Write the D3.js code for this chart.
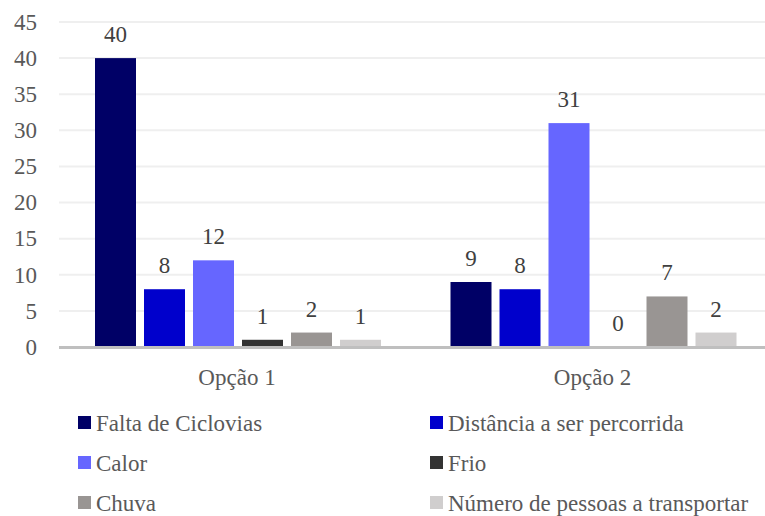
<!DOCTYPE html>
<html>
<head>
<meta charset="utf-8">
<script src="https://cdn.jsdelivr.net/npm/d3@7"></script>
<style>
  html, body { margin: 0; padding: 0; background: #fff; }
  svg text { font-family: "Liberation Serif", "Times New Roman", serif !important; }
</style>
</head>
<body>
<svg id="chart" width="765" height="516"></svg>
<script>
const categories = ["Opção 1", "Opção 2"];
const seriesNames = ["Falta de Ciclovias", "Distância a ser percorrida", "Calor", "Frio", "Chuva", "Número de pessoas a transportar"];
const seriesColors = ["#000066", "#0000CC", "#6666FF", "#333333", "#999593", "#D0CECE"];
const falta = [40, 9];
const distancia = [8, 8];
const calor = [12, 31];
const frio = [1, 0];
const chuva = [2, 7];
const numero = [1, 2];
const yTicks = [0, 5, 10, 15, 20, 25, 30, 35, 40, 45];

const seriesValues = [falta, distancia, calor, frio, chuva, numero];
const FONT_STYLE = "font-family: 'Liberation Serif', serif";
const FS = 23;

const svg = d3.select("#chart");
const plotLeft = 59, plotRight = 765;

const y = d3.scaleLinear().domain([0, 45]).range([347, 22]);
const x0 = d3.scaleBand().domain(categories).range([60.25, 771.25]).padding(0);
const groupW = 286;
const x1 = d3.scaleBand().domain(seriesNames).range([0, groupW]).paddingInner(8 / 49).paddingOuter(0);

// gridlines
svg.append("g").selectAll("line").data(yTicks.filter(d => d > 0)).join("line")
  .attr("x1", plotLeft).attr("x2", plotRight)
  .attr("y1", d => y(d)).attr("y2", d => y(d))
  .attr("stroke", "#EFEFEF").attr("stroke-width", 2);

// y tick labels
svg.append("g").selectAll("text").data(yTicks).join("text")
  .attr("x", 37).attr("y", d => y(d)).attr("dy", "0.34em")
  .attr("text-anchor", "end").attr("font-size", FS).attr("fill", "#595959")
  .attr("style", FONT_STYLE)
  .text(d => d);

// bars
const groups = svg.append("g").selectAll("g").data(categories).join("g")
  .attr("transform", c => `translate(${x0(c) + x0.bandwidth() / 2 - groupW / 2},0)`);

groups.each(function(c, ci) {
  const g = d3.select(this);
  const data = seriesNames.map((s, si) => ({ s, si, v: seriesValues[si][ci] }));
  g.selectAll("rect").data(data).join("rect")
    .attr("x", d => x1(d.s)).attr("width", x1.bandwidth())
    .attr("y", d => y(d.v)).attr("height", d => y(0) - y(d.v))
    .attr("fill", d => seriesColors[d.si]);
  g.selectAll("text").data(data).join("text")
    .attr("x", d => x1(d.s) + x1.bandwidth() / 2)
    .attr("y", d => y(d.v) - 16)
    .attr("text-anchor", "middle").attr("font-size", FS).attr("fill", "#404040")
    .attr("style", FONT_STYLE)
    .text(d => d.v);
});

// axis line
svg.append("line").attr("x1", plotLeft).attr("x2", plotRight)
  .attr("y1", y(0) + 0.5).attr("y2", y(0) + 0.5)
  .attr("stroke", "#BFBFBF").attr("stroke-width", 3);

// category labels
svg.append("g").selectAll("text").data(categories).join("text")
  .attr("x", c => x0(c) + x0.bandwidth() / 2 - 1).attr("y", 385)
  .attr("text-anchor", "middle").attr("font-size", FS).attr("fill", "#595959")
  .attr("style", FONT_STYLE)
  .text(c => c);

// legend
const legX = [78, 430], legY = [423, 463, 503];
const leg = svg.append("g").selectAll("g").data(seriesNames).join("g")
  .attr("transform", (d, i) => `translate(${legX[i % 2]},${legY[Math.floor(i / 2)]})`);
leg.append("rect").attr("x", 0).attr("y", -7).attr("width", 13).attr("height", 13)
  .attr("fill", (d, i) => seriesColors[i]);
leg.append("text").attr("x", 18).attr("y", 0).attr("dy", "0.34em")
  .attr("font-size", FS).attr("fill", "#595959").attr("style", FONT_STYLE).text(d => d);
</script>
</body>
</html>
